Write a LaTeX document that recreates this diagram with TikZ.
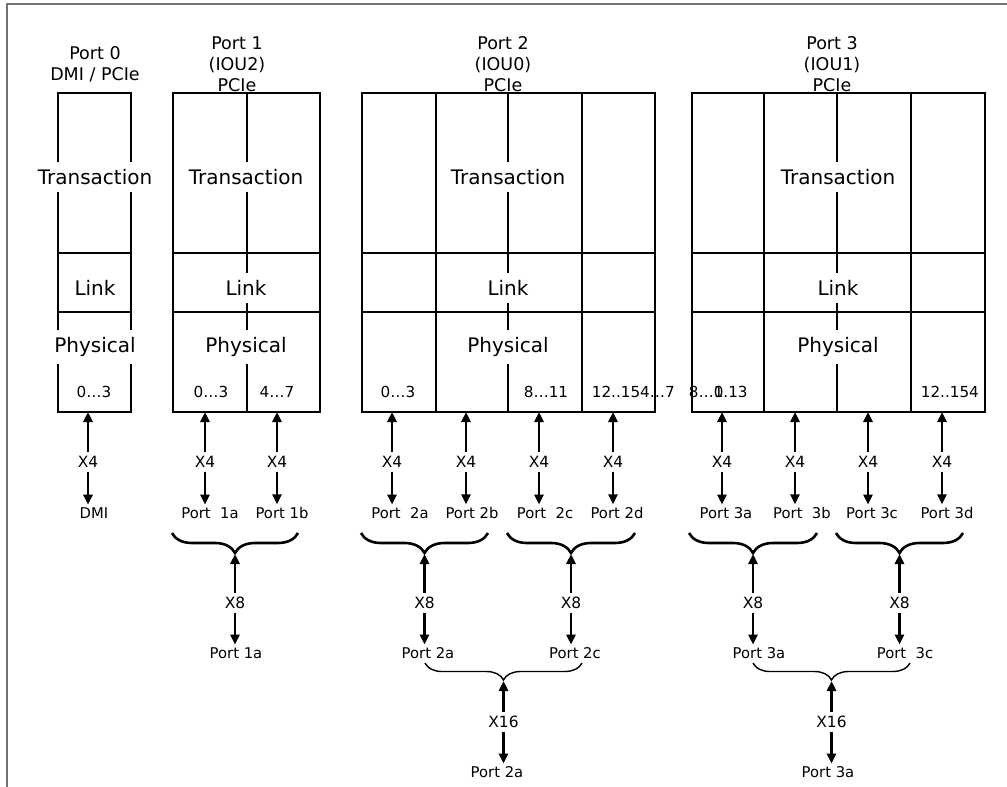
\documentclass[tikz,border=0pt]{standalone}
\usepackage{fontspec}
\setmainfont{DejaVu Sans}
\usepackage{tikz}
\usetikzlibrary{arrows.meta}
\usetikzlibrary{decorations.pathreplacing}

\begin{document}
\begin{tikzpicture}[x=1pt,y=-1pt,line width=1.8pt,
	layername/.style={fill=white,inner xsep=3pt,inner ysep=7pt,font=\fontsize{20}{24}\selectfont},
	porttitle/.style={align=center,font=\fontsize{17.5}{21}\selectfont},
	lane/.style={inner sep=2pt,font=\fontsize{15.2}{18}\selectfont},
	lanecount/.style={inner sep=3pt,font=\fontsize{15.5}{18}\selectfont},
	port/.style={inner sep=2pt,font=\fontsize{14.8}{18}\selectfont},
	link/.style={line width=2.6pt,-{Triangle[width=9pt,length=10pt]}},
	bigbrace/.style={decorate,decoration={brace,mirror,amplitude=20pt},line width=2.6pt},
	thinbrace/.style={decorate,decoration={brace,mirror,amplitude=17pt},line width=1.4pt}]
\useasboundingbox (0,0) rectangle (1007,787);
\def\ytop{93}
\def\ytl{253}
\def\ylp{312}
\def\ybot{412}

%frame
\draw[line width=2.2pt,black!55] (7,787) -- (7,4) -- (1007,4);

%boxes
\foreach \l/\r in {58/131,173/320,362/655,692/985}{
	\draw (\l,\ytop) rectangle (\r,\ybot);
	\draw (\l,\ytl) -- (\r,\ytl);
	\draw (\l,\ylp) -- (\r,\ylp);}
\foreach \x in {247,436,508,582,764,837,911}
	\draw (\x,\ytop) -- (\x,\ybot);

%layers
\foreach \n/\x in {0/95,1/246,2/508,3/838}{
	\node[layername] (trans\n) at (\x,177) {Transaction};
	\node[layername] (link\n) at (\x,288) {Link};
	\node[layername] (phys\n) at (\x,347) {Physical};}

%titles
\node[porttitle] (title0) at (95,64) {Port 0\\DMI / PCIe};
\node[porttitle] (title1) at (237,64) {Port 1\\(IOU2)\\PCIe};
\node[porttitle] (title2) at (503,64) {Port 2\\(IOU0)\\PCIe};
\node[porttitle] (title3) at (832,64) {Port 3\\(IOU1)\\PCIe};

%lanes
\node[lane] (l0) at (94,392) {0\ldots3};
\node[lane] (l1a) at (211,392) {0\ldots3};
\node[lane] (l1b) at (277,392) {4\ldots7};
\node[lane] (l2a) at (398,392) {0\ldots3};
\node[lane] (l2c) at (546,392) {8\ldots11};
\node[lane,anchor=west] (l2d) at (589,392) {12..154\ldots7};
\node[lane,anchor=west] (l3a) at (686,392) {8\ldots\rlap{1}0.13};
\node[lane,anchor=west] (l3d) at (918,392) {12..154};

%x4 links
\foreach \n/\x/\px/\name in {0/88/94/DMI,1a/205/210/{Port\ \ 1a},1b/277/282/{Port 1b},
	2a/392/400/{Port\ \ 2a},2b/466/472/{Port 2b},2c/539/545/{Port\ \ 2c},2d/613/617/{Port 2d},
	3a/722/726/{Port 3a},3b/795/802/{Port\ \ 3b},3c/868/872/{Port 3c},3d/942/947/{Port 3d}}{
	\coordinate (lane\n) at (\x,\ybot);
	\node[lanecount] (xf\n) at (\x,462) {X4};
	\node[port] (p\n) at (\px,513) {\name};
	\draw[link] (xf\n) -- (lane\n);
	\draw[link] (xf\n) -- (xf\n |- p\n.north);
}

%x8 links
\foreach \n/\l/\r/\px/\name in {1/172/298/236/{Port 1a},2ab/361/488/428/{Port 2a},2cd/507/635/575/{Port 2c},
	3ab/689/817/759/{Port 3a},3cd/836/963/905/{Port\ \ 3c}}{
	\draw[bigbrace] (\l,533) -- (\r,533);
	\coordinate (tip\n) at ({(\l+\r)/2},554);
	\node[lanecount] (xe\n) at ({(\l+\r)/2},603) {X8};
	\node[port] (q\n) at (\px,653) {\name};
	\draw[link] (xe\n) -- (tip\n);
	\draw[link] (xe\n) -- (xe\n |- q\n.north);
}

%x16 links
\foreach \n/\l/\r/\px/\name in {2/425/582/497/{Port 2a},3/753/910/828/{Port 3a}}{
	\draw[thinbrace] (\l,663) -- (\r,663);
	\coordinate (top\n) at ({(\l+\r)/2},681);
	\node[lanecount] (xs\n) at ({(\l+\r)/2},722) {X16};
	\node[port] (r\n) at (\px,772) {\name};
	\draw[link] (xs\n) -- (top\n);
	\draw[link] (xs\n) -- (xs\n |- r\n.north);
}
\end{tikzpicture}
\end{document}
